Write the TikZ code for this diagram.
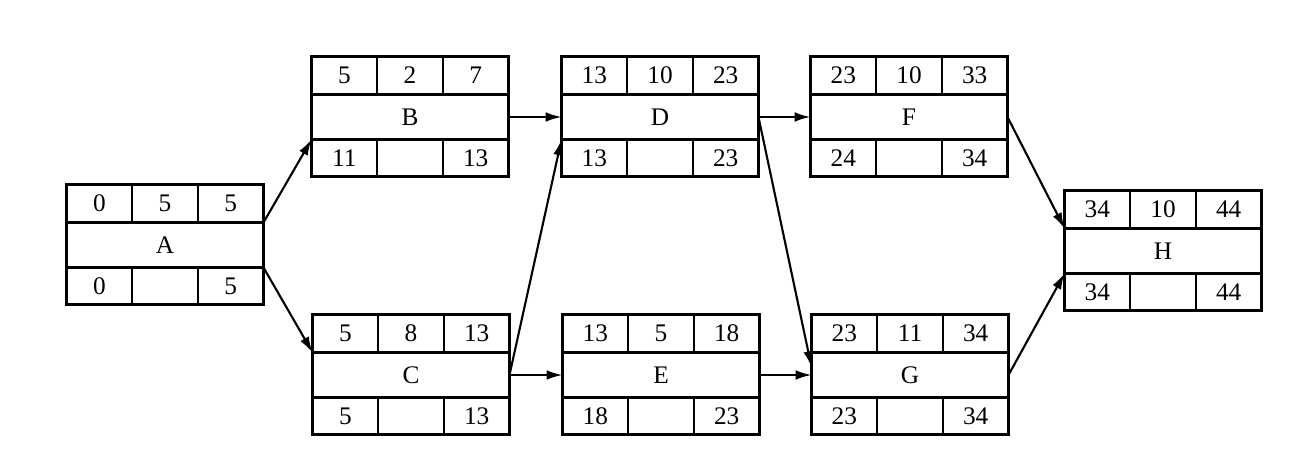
\documentclass[tikz,border=0pt]{standalone}
\usepackage{fontspec}
\setmainfont{Liberation Serif}
\usetikzlibrary{arrows.meta,positioning}
% one activity: middle row holds the name, three cells above and below
\newcommand{\actbox}[8]{%
  \node[mid] (#1) at (#2) {#6};
  \node[topcell,anchor=south west] (#1-es) at (#1.north west) {#3};
  \node[topcell,right=0pt of #1-es] (#1-d) {#4};
  \node[topcell,right=0pt of #1-d] (#1-ef) {#5};
  \node[botcell,anchor=north west] (#1-ls) at (#1.south west) {#7};
  \node[botcell,right=0pt of #1-ls] (#1-fl) {};
  \node[botcell,right=0pt of #1-fl] (#1-lf) {#8};
}

\begin{document}
\begin{tikzpicture}[x=0.02cm,y=-0.02cm,
  mid/.style={draw,line width=1.4pt,minimum width=3.94cm,minimum height=0.9cm,
              inner sep=0pt,outer sep=0pt,font=\Large},
  topcell/.style={draw,line width=1.4pt,minimum width=1.3133cm,minimum height=0.76cm,
              inner sep=0pt,outer sep=0pt,font=\Large},
  botcell/.style={topcell,minimum height=0.74cm},
  arr/.style={-{Latex[length=9pt,width=5.5pt]},line width=1.2pt}]
  \useasboundingbox (0,0) rectangle (1293,456);
  % ---- activities
  \actbox{A}{165,245}{0}{5}{5}{A}{0}{5}
  \actbox{B}{410,117}{5}{2}{7}{B}{11}{13}
  \actbox{C}{411,375}{5}{8}{13}{C}{5}{13}
  \actbox{D}{660,117}{13}{10}{23}{D}{13}{23}
  \actbox{E}{661,375}{13}{5}{18}{E}{18}{23}
  \actbox{F}{909,117}{23}{10}{33}{F}{24}{34}
  \actbox{G}{910,375}{23}{11}{34}{G}{23}{34}
  \actbox{H}{1163,251}{34}{10}{44}{H}{34}{44}
  % ---- precedence arrows
  \draw[arr] (A.north east) -- (B.south west);
  \draw[arr] (A.south east) -- (C.north west);
  \draw[arr] (B.east) -- (D.west);
  \draw[arr] (C.east) -- (D.south west);
  \draw[arr] (C.east) -- (E.west);
  \draw[arr] (D.east) -- (F.west);
  \draw[arr] (D.east) -- ([yshift=0.16cm]G.west);
  \draw[arr] (E.east) -- (G.west);
  \draw[arr] (F.east) -- (H.north west);
  \draw[arr] (G.east) -- (H.south west);
\end{tikzpicture}
\end{document}
